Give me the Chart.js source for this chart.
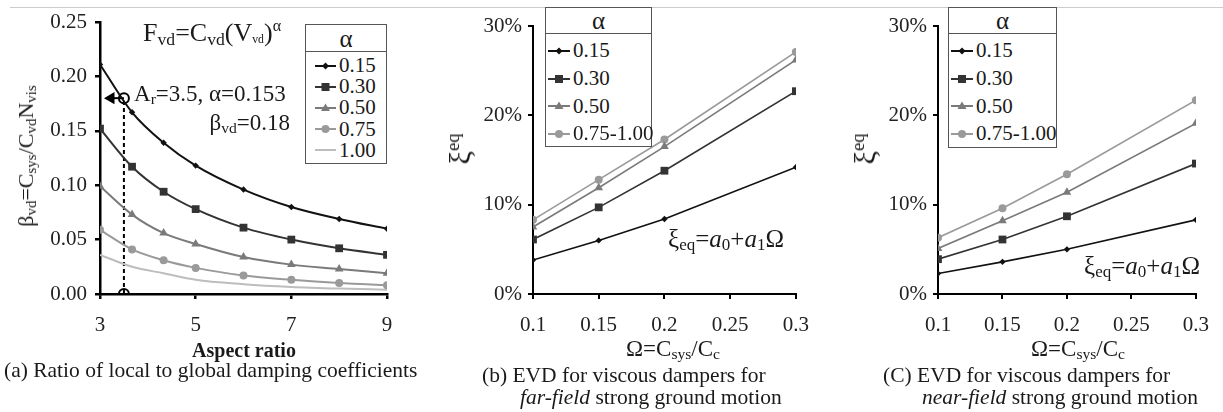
<!DOCTYPE html>
<html lang="en">
<head>
<meta charset="UTF-8" />
<title>Viscous dampers: damping ratio and EVD</title>
<script src="https://cdn.jsdelivr.net/npm/chart.js"></script>
<style>
  body { margin: 0; background: #fff; }
  #wrap {
    position: relative; width: 1223px; height: 412px; overflow: hidden;
    font-family: "Liberation Serif", serif; color: #1a1a1a;
  }
  canvas { position: absolute; top: 0; }
  .t { position: absolute; white-space: nowrap; line-height: 1; }
  .mid { transform: translateY(-50%); }
  .ctr { transform: translate(-50%, -50%); }
  .rot { transform: translate(-50%, -50%) rotate(-90deg); }
  sub { font-size: 68%; line-height: 0; vertical-align: -0.2em; }
  sup { font-size: 62%; line-height: 0; }
  .legend { position: absolute; border: 1px solid #555; background: #fff; box-sizing: border-box; }
  .legend .head { text-align: center; border-bottom: 1px solid #555; box-sizing: border-box; }
  .legend .row { display: flex; align-items: center; white-space: nowrap; }
  .legend svg { flex: none; margin-right: 3px; }
  #topline { position: absolute; left: 10px; right: 0; top: 7px; height: 1px; background: #ccc; }
</style>
</head>
<body>
<div id="wrap">
  <div id="topline"></div>
  <canvas id="chartA" width="410" height="340" style="left:0"></canvas>
  <canvas id="chartB" width="413" height="340" style="left:410px"></canvas>
  <canvas id="chartC" width="408" height="340" style="left:815px"></canvas>

  <!-- panel (a) texts -->
  <div class="t rot" style="left:26px;top:156px;font-size:22px">β<sub>vd</sub>=C<sub>sys</sub>/C<sub>vd</sub>N<sub>vis</sub></div>
  <div class="t mid" style="left:143px;top:33px;font-size:26px">F<sub>vd</sub>=C<sub>vd</sub>(V<sub style="font-size:45%">vd</sub>)<sup style="vertical-align:0.6em">α</sup></div>
  <div class="t mid" style="left:134px;top:93px;font-size:23px">A<sub>r</sub>=3.5, α=0.153</div>
  <div class="t mid" style="right:933px;top:122px;font-size:23px">β<sub>vd</sub>=0.18</div>
  <div class="t ctr" style="left:244px;top:350px;font-size:20px;font-weight:bold">Aspect ratio</div>
  <div class="t mid" style="left:4px;top:371px;font-size:21.5px">(a) Ratio of local to global damping coefficients</div>
  <div class="legend" id="legA"></div>

  <!-- panel (b) texts -->
  <div class="t rot" style="left:460px;top:149px;font-size:30px">ξ<sup>eq</sup></div>
  <div class="t mid" style="left:668px;top:238px;font-size:25px">ξ<sub>eq</sub>=<i>a</i><sub>0</sub>+<i>a</i><sub>1</sub>Ω</div>
  <div class="t ctr" style="left:673px;top:348px;font-size:23px">Ω=C<sub>sys</sub>/C<sub>c</sub></div>
  <div class="t mid" style="left:482px;top:376px;font-size:21.5px">(b) EVD for viscous dampers for</div>
  <div class="t mid" style="left:520px;top:398px;font-size:21.5px"><i>far-field</i> strong ground motion</div>
  <div class="legend" id="legB"></div>

  <!-- panel (c) texts -->
  <div class="t rot" style="left:865px;top:149px;font-size:30px">ξ<sup>eq</sup></div>
  <div class="t mid" style="left:1084px;top:265px;font-size:25px">ξ<sub>eq</sub>=<i>a</i><sub>0</sub>+<i>a</i><sub>1</sub>Ω</div>
  <div class="t ctr" style="left:1078px;top:348px;font-size:23px">Ω=C<sub>sys</sub>/C<sub>c</sub></div>
  <div class="t mid" style="left:883px;top:376px;font-size:21.5px">(C) EVD for viscous dampers for</div>
  <div class="t mid" style="left:922px;top:398px;font-size:21.5px"><i>near-field</i> strong ground motion</div>
  <div class="legend" id="legC"></div>
</div>

<script>
  // (a) beta_vd against aspect ratio, one curve per alpha
  const aspectRatio = [3, 3.67, 4.33, 5, 6, 7, 8, 9];
  const beta015 = [0.211, 0.167, 0.139, 0.118, 0.096, 0.080, 0.069, 0.060];
  const beta030 = [0.152, 0.117, 0.094, 0.078, 0.061, 0.050, 0.042, 0.036];
  const beta050 = [0.099, 0.073, 0.056, 0.046, 0.034, 0.027, 0.023, 0.019];
  const beta075 = [0.059, 0.041, 0.031, 0.024, 0.017, 0.013, 0.010, 0.008];
  const beta100 = [0.036, 0.025, 0.019, 0.013, 0.009, 0.0065, 0.005, 0.004];
  const alphaLabelsA = ["0.15", "0.30", "0.50", "0.75", "1.00"];

  // worked example marked on (a)
  const exampleAr = 3.5;
  const exampleBeta = 0.18;

  // (b) and (c) EVD (%) against Omega
  const omega = [0.1, 0.15, 0.2, 0.3];
  const far015 = [3.8, 6.0, 8.4, 14.2];
  const far030 = [6.1, 9.7, 13.8, 22.7];
  const far050 = [7.5, 11.9, 16.5, 26.2];
  const far075 = [8.3, 12.8, 17.3, 27.1];
  const near015 = [2.3, 3.6, 5.0, 8.3];
  const near030 = [3.9, 6.1, 8.7, 14.6];
  const near050 = [5.1, 8.2, 11.4, 19.1];
  const near075 = [6.3, 9.6, 13.4, 21.7];
  const alphaLabelsBC = ["0.15", "0.30", "0.50", "0.75-1.00"];

  // tick labels
  const xTicksA = [3, 5, 7, 9];
  const yTicksA = [0, 0.05, 0.1, 0.15, 0.2, 0.25];
  const xTicksBC = [0.1, 0.15, 0.2, 0.25, 0.3];
  const yTicksBC = [0, 10, 20, 30];

  // look of each alpha series
  const styles = [
    { color: "#111", marker: "rectRot", r: 3.2, shape: "diamond" },
    { color: "#333", marker: "rect", r: 5.5, shape: "square" },
    { color: "#7a7a7a", marker: "triangle", r: 5, shape: "triangle" },
    { color: "#9a9a9a", marker: "circle", r: 4, shape: "circle" },
    { color: "#bdbdbd", marker: false, r: 0, shape: "none" },
  ];

  const tickFont = { family: "Liberation Serif", size: 21 };

  function series(xs, ys, st, lw, smooth) {
    return {
      data: xs.map((x, i) => ({ x: x, y: ys[i] })),
      borderColor: st.color,
      backgroundColor: st.color,
      borderWidth: lw,
      pointStyle: st.marker || "circle",
      pointRadius: st.marker ? st.r : 0,
      pointBorderWidth: 0,
      pointBackgroundColor: st.color,
      cubicInterpolationMode: smooth ? "monotone" : "default",
      tension: 0,
    };
  }

  function makeChart(id, datasets, cfg) {
    return new Chart(document.getElementById(id), {
      type: "line",
      data: { datasets: datasets },
      options: {
        responsive: false,
        animation: false,
        layout: { padding: cfg.padding },
        plugins: { legend: { display: false }, tooltip: { enabled: false } },
        scales: {
          x: {
            type: "linear",
            min: cfg.xMin,
            max: cfg.xMax,
            afterBuildTicks: (s) => { s.ticks = cfg.xTicks.map((v) => ({ value: v })); },
            afterFit: (s) => { s.height = 45; },
            border: { color: "#000", width: cfg.axisW },
            grid: { drawOnChartArea: false, tickLength: 5, color: "#000", lineWidth: cfg.axisW },
            ticks: { font: tickFont, color: "#222", padding: 14, maxRotation: 0, callback: cfg.xFmt },
          },
          y: {
            min: cfg.yMin,
            max: cfg.yMax,
            afterBuildTicks: (s) => { s.ticks = cfg.yTicks.map((v) => ({ value: v })); },
            afterFit: (s) => { s.width = 60; },
            border: { color: "#000", width: cfg.axisW },
            grid: { drawOnChartArea: false, tickLength: 5, color: "#000", lineWidth: cfg.axisW },
            ticks: { font: tickFont, color: "#222", padding: cfg.yPad, callback: cfg.yFmt },
          },
        },
      },
    });
  }

  // panel (a)
  const betaSets = [beta015, beta030, beta050, beta075, beta100];
  const dsA = betaSets.map((ys, i) => series(aspectRatio, ys, styles[i], 2, true));
  dsA.push({
    data: [{ x: exampleAr, y: 0 }, { x: exampleAr, y: exampleBeta }],
    borderColor: "#000", borderWidth: 2, borderDash: [4, 3],
    pointStyle: "circle", pointRadius: 5, pointBorderWidth: 2,
    pointBorderColor: "#000", pointBackgroundColor: "rgba(0,0,0,0)",
  });
  dsA.push({
    data: [{ x: 3.23, y: exampleBeta }, { x: exampleAr, y: exampleBeta }],
    borderColor: "#000", borderWidth: 2,
    pointStyle: "triangle", pointRotation: -90, pointRadius: [7, 0],
    pointBorderWidth: 0, pointBackgroundColor: "#000",
  });
  makeChart("chartA", dsA, {
    padding: { left: 40, right: 23, top: 22, bottom: 1 },
    xMin: 3, xMax: 9, xTicks: xTicksA, xFmt: (v) => v,
    yMin: 0, yMax: 0.25, yTicks: yTicksA, yFmt: (v) => v.toFixed(2),
    axisW: 2.5, yPad: 8,
  });

  // panels (b) and (c)
  const pctCfg = (left, right) => ({
    padding: { left: left, right: right, top: 26, bottom: 1 },
    xMin: 0.1, xMax: 0.3, xTicks: xTicksBC, xFmt: (v) => String(+v.toFixed(2)),
    yMin: 0, yMax: 30, yTicks: yTicksBC, yFmt: (v) => v + "%",
    axisW: 2, yPad: 6,
  });
  makeChart("chartB", [far015, far030, far050, far075].map((ys, i) => series(omega, ys, styles[i], 1.6, false)), pctCfg(63, 21));
  makeChart("chartC", [near015, near030, near050, near075].map((ys, i) => series(omega, ys, styles[i], 1.6, false)), pctCfg(63, 16));

  // framed legends with line + marker samples
  function sample(st, w) {
    const c = st.color, m = w / 2, y = 6;
    let mark = "";
    if (st.shape === "diamond") mark = `<polygon points="${m},${y - 3.5} ${m + 3.5},${y} ${m},${y + 3.5} ${m - 3.5},${y}" fill="${c}"/>`;
    if (st.shape === "square") mark = `<rect x="${m - 4}" y="${y - 4}" width="8" height="8" fill="${c}"/>`;
    if (st.shape === "triangle") mark = `<polygon points="${m},${y - 4.5} ${m + 4.5},${y + 3} ${m - 4.5},${y + 3}" fill="${c}"/>`;
    if (st.shape === "circle") mark = `<circle cx="${m}" cy="${y}" r="4" fill="${c}"/>`;
    return `<svg width="${w}" height="12"><line x1="0" y1="${y}" x2="${w}" y2="${y}" stroke="${c}" stroke-width="2"/>${mark}</svg>`;
  }

  function buildLegend(id, labels, cfg) {
    const el = document.getElementById(id);
    Object.assign(el.style, {
      left: cfg.left + "px", top: cfg.top + "px",
      width: cfg.width + "px", height: cfg.height + "px", fontSize: cfg.font + "px",
    });
    let html = `<div class="head" style="height:${cfg.head}px;line-height:${cfg.head}px;font-size:25px">α</div>`;
    html += `<div style="padding:${cfg.padTop}px 0 0 ${cfg.padLeft}px">`;
    labels.forEach((lab, i) => {
      html += `<div class="row" style="height:${cfg.rowH}px">${sample(styles[i], cfg.sampleW)}<span>${lab}</span></div>`;
    });
    el.innerHTML = html + "</div>";
  }

  buildLegend("legA", alphaLabelsA, { left: 305, top: 24, width: 82, height: 140, head: 27, padTop: 3, padLeft: 9, rowH: 21.2, sampleW: 21, font: 21 });
  buildLegend("legB", alphaLabelsBC, { left: 545, top: 7, width: 107, height: 140, head: 26, padTop: 3, padLeft: 2, rowH: 27.7, sampleW: 22, font: 21 });
  buildLegend("legC", alphaLabelsBC, { left: 948, top: 7, width: 109, height: 141, head: 26, padTop: 3, padLeft: 2, rowH: 27.7, sampleW: 22, font: 21 });
</script>
</body>
</html>
